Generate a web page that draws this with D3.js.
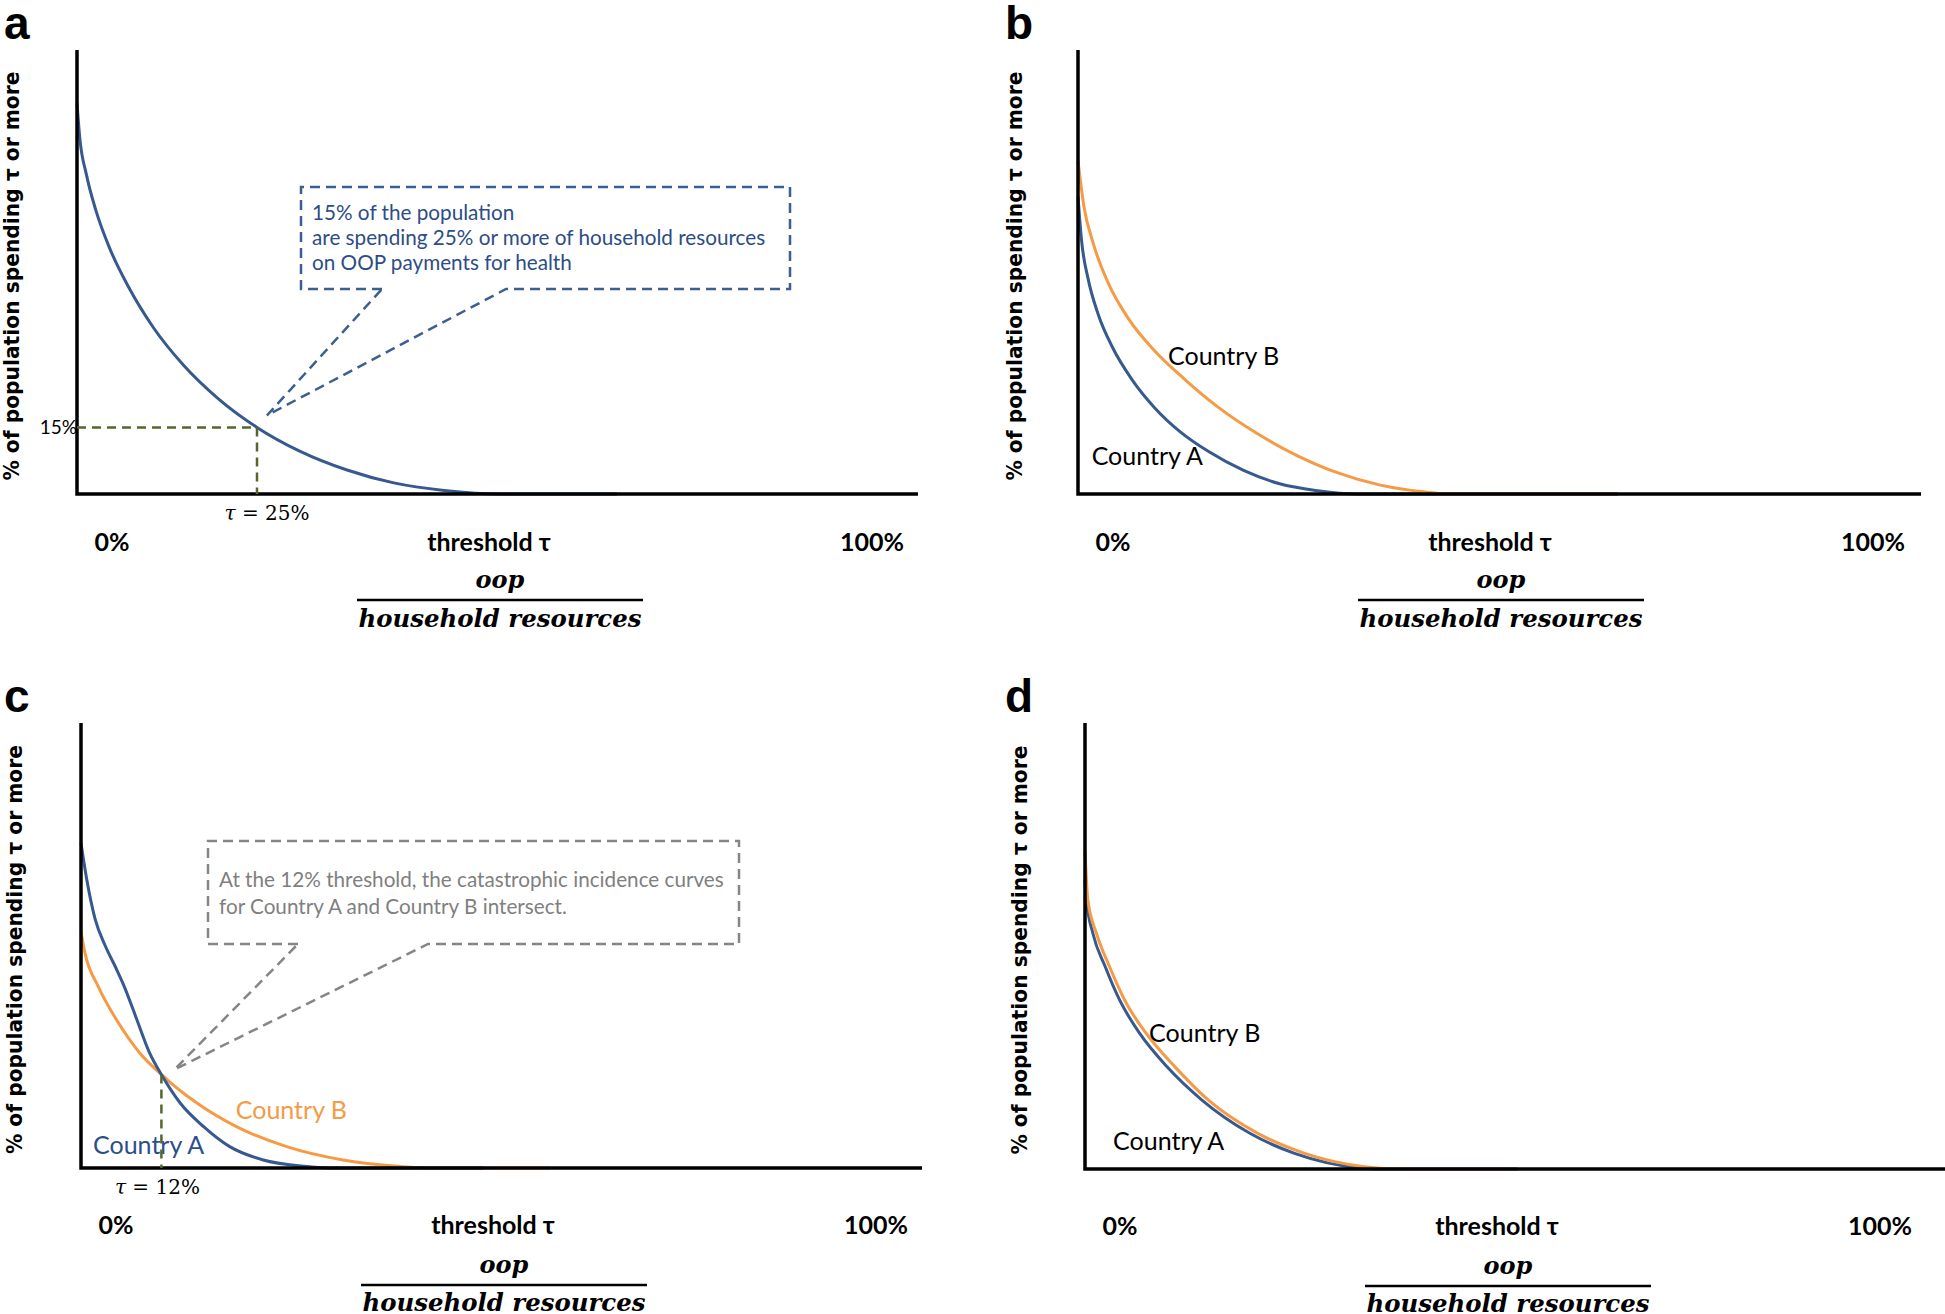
<!DOCTYPE html>
<meta charset="utf-8">
<style>
    body { margin: 0; background: #fff; }
    svg text { font-family: Lato, "Open Sans", sans-serif; }
    .letter { font-family: "Liberation Sans", Arial, sans-serif; font-weight: bold; font-size: 46px; }
    .ylab { font-family: "DejaVu Sans", sans-serif; font-weight: bold; font-size: 21px; }
    .tick { font-weight: bold; font-size: 25px; }
    .frac { font-family: "DejaVu Serif", serif; font-weight: bold; font-style: italic; font-size: 24px; }
    .note { font-size: 20.7px; }
    .country { font-size: 25px; }
    .math { font-family: "DejaVu Serif", serif; font-size: 20px; }
</style>
<body>
<div id="plotarea"></div>

<script src="https://cdn.jsdelivr.net/npm/d3@7"></script>
<script>

    // [threshold %, % of population]
    var curveA = [[0, 88], [0.4, 80], [1.3, 72], [2.6, 64], [4.5, 55.5], [7.2, 46.5], [10.6, 37.5], [14.8, 29],
        [19.6, 21.5], [25, 15], [31, 9.6], [37.5, 5.4], [44, 2.5], [51, 0.8], [59, 0], [75, 0]];

    var bCountryA = [[0, 67], [0.5, 57], [1.4, 48.5], [2.8, 40.5], [4.8, 33], [7.4, 26], [10.6, 19.5],
        [14.2, 14], [18.2, 9.5], [23, 5.3], [28, 2.3], [33, 0.8], [39, 0], [75, 0]];
    var bCountryB = [[0, 75], [0.8, 65], [2.2, 56], [4.2, 47.5], [7, 39.5], [10.5, 32.5], [14.7, 26],
        [19.5, 19.5], [25, 13.5], [30.5, 8.6], [36, 4.8], [42, 2], [48, 0.5], [52, 0], [75, 0]];

    var cCountryA = [[0, 73], [0.9, 64.5], [2.1, 56], [3.6, 50], [5.2, 45], [6.4, 41], [8.3, 33.5],
        [10.2, 26], [12, 21], [14.8, 14.6], [18.3, 9.3], [22.2, 4.8], [27.2, 1.8], [33.2, 0.4], [37, 0], [60, 0]];
    var cCountryB = [[0, 53], [0.6, 48.3], [2.6, 40.7], [5.3, 33.3], [8.8, 25.8], [12, 21], [17.3, 14.6],
        [23.2, 9.3], [30.7, 4.8], [39.1, 1.8], [48.1, 0.3], [52, 0], [70, 0]];

    var dCountryA = [[0, 64.8], [0.2, 60.3], [1.1, 52.8], [2.8, 45.4], [4.8, 37.9], [7.6, 30.4], [11.4, 22.9],
        [16.2, 15.5], [22.9, 8.0], [29.1, 3.5], [38.4, 0.2], [41, 0], [60, 0]];
    var dCountryB = [[0, 71.3], [0.4, 60.3], [1.6, 52.8], [3.4, 45.4], [5.5, 37.9], [8.5, 30.4], [12.5, 22.9],
        [17.1, 15.5], [24, 8.0], [30.5, 3.5], [38.8, 0.5], [43.8, 0], [60, 0]];

    var tauA = 25, popA = 15;
    var tauC = 12, popC = 21;

    var tickLabels = ["0%", "threshold \u03c4", "100%"];
    var yTitle = "% of population spending \u03c4 or more";
    var fracTop = "oop", fracBottom = "household resources";
    var noteA = ["15% of the population", "are spending 25% or more of household resources", "on OOP payments for health"];
    var noteC = ["At the 12% threshold, the catastrophic incidence curves", "for Country A and Country B intersect."];

    var blue = "#36598f", orange = "#f59a45", green = "#56672c", grey = "#858585";

    var svg = d3.select("#plotarea").append("svg")
            .attr("width", 1945)
            .attr("height", 1314);

    var line = d3.line().curve(d3.curveMonotoneX);

    function panel(p) {
        var g = svg.append("g");
        var x = d3.scaleLinear().domain([0, 100]).range([p.x0, p.x0 + 100 * p.pxPer]);
        var y = d3.scaleLinear().domain([0, 100]).range([p.bottom, p.top]);
        line.x(function(d) { return x(d[0]); }).y(function(d) { return y(d[1]); });

        g.append("text").attr("class", "letter").attr("x", p.letterX).attr("y", p.letterY).text(p.letter);

        g.append("text").attr("class", "ylab")
            .attr("transform", "translate(" + (p.x0 - p.ylabOff) + "," + ((p.top + p.bottom) / 2 + 4) + ") rotate(-90)")
            .attr("text-anchor", "middle").attr("dy", "0.35em")
            .attr("textLength", 409).attr("lengthAdjust", "spacingAndGlyphs")
            .text(yTitle);

        p.series.forEach(function(s) {
            g.append("path").datum(s.data)
                .attr("d", line)
                .attr("fill", "none")
                .attr("stroke", s.color)
                .attr("stroke-width", 3);
        });

        // axes
        g.append("path")
            .attr("d", "M" + p.x0 + "," + (p.top) + "V" + p.bottom + "H" + p.right)
            .attr("fill", "none").attr("stroke", "#000").attr("stroke-width", 3.5);

        var tx = [p.x0 + 35, p.x0 + 412, p.x0 + 795];
        g.selectAll(".tick").data(tickLabels).enter().append("text")
            .attr("class", "tick").attr("text-anchor", "middle")
            .attr("x", function(d, i) { return tx[i]; })
            .attr("y", p.bottom + p.off[0]).attr("dy", "0.35em")
            .text(function(d) { return d; });

        var fx = p.x0 + 423;
        g.append("text").attr("class", "frac").attr("text-anchor", "middle")
            .attr("x", fx).attr("y", p.bottom + p.off[1]).attr("dy", "0.35em").text(fracTop);
        g.append("line").attr("x1", fx - 143).attr("x2", fx + 143)
            .attr("y1", p.bottom + p.off[2]).attr("y2", p.bottom + p.off[2])
            .attr("stroke", "#000").attr("stroke-width", 2.5);
        g.append("text").attr("class", "frac").attr("text-anchor", "middle")
            .attr("x", fx).attr("y", p.bottom + p.off[3]).attr("dy", "0.35em")
            .attr("textLength", 283).attr("lengthAdjust", "spacingAndGlyphs")
            .text(fracBottom);

        (p.labels || []).forEach(function(l) {
            g.append("text").attr("class", "country")
                .attr("x", x(l.at[0])).attr("y", y(l.at[1])).attr("dy", "0.35em")
                .attr("fill", l.color).text(l.text);
        });

        if (p.tau) {
            var px = x(p.tau[0]), py = y(p.tau[1]);
            var guide = "M" + px + "," + py + "V" + p.bottom;
            if (p.tau.hline) guide = "M" + p.x0 + "," + py + "H" + px + guide;
            g.append("path").attr("d", guide).attr("fill", "none")
                .attr("stroke", green).attr("stroke-width", 2.5).attr("stroke-dasharray", "9,6");
            g.append("text").attr("class", "math").attr("text-anchor", "middle")
                .attr("x", px + p.tau.labelDx).attr("y", p.bottom + 19).attr("dy", "0.35em")
                .html("<tspan font-style='italic'>\u03c4</tspan> = " + p.tau[0] + "%");
            if (p.tau.hline) {
                g.append("text").attr("text-anchor", "end").attr("font-size", 19)
                    .attr("x", p.x0).attr("y", py).attr("dy", "0.35em").text(p.tau[1] + "%");
            }

            var b = p.box, tip = [px + b.tip[0], py + b.tip[1]];
            g.append("path")
                .attr("d", "M" + b.gap[0] + "," + b.y1 + "H" + b.x0 + "V" + b.y0 + "H" + b.x1 + "V" + b.y1 +
                    "H" + b.gap[1] + "L" + tip[0] + "," + tip[1] + "Z")
                .attr("fill", "none").attr("stroke", b.color).attr("stroke-width", 2.5)
                .attr("stroke-dasharray", "10,6");
            b.lines.forEach(function(t, i) {
                g.append("text").attr("class", "note").attr("fill", b.text)
                    .attr("x", b.x0 + 11).attr("y", b.ty + i * b.lh).attr("dy", "0.35em").text(t);
            });
        }
    }

    var t1 = [48, 86, 106, 125], t2 = [57, 97, 117, 135];

    panel({letter: "a", letterX: 4, letterY: 39, x0: 77, top: 50, bottom: 494, right: 918, pxPer: 7.2,
        ylabOff: 65, off: t1,
        series: [{data: curveA, color: blue}],
        tau: Object.assign([tauA, popA], {hline: true, labelDx: 10}),
        box: {x0: 301, x1: 790, y0: 187, y1: 289, gap: [382, 506], tip: [10, -12],
            color: "#3a5f92", text: "#2c4d87", lines: noteA, ty: 213, lh: 25}
    });

    panel({letter: "b", letterX: 1005, letterY: 39, x0: 1078, top: 50, bottom: 494, right: 1921, pxPer: 7.2,
        ylabOff: 63, off: t1,
        series: [{data: bCountryA, color: blue}, {data: bCountryB, color: orange}],
        labels: [{text: "Country B", at: [12.5, 31], color: "#000"}, {text: "Country A", at: [1.9, 8.6], color: "#000"}]
    });

    panel({letter: "c", letterX: 4, letterY: 712, x0: 81, top: 723, bottom: 1168, right: 922, pxPer: 6.7,
        ylabOff: 66, off: t2,
        series: [{data: cCountryB, color: orange}, {data: cCountryA, color: blue}],
        labels: [{text: "Country B", at: [23.1, 13], color: orange}, {text: "Country A", at: [1.8, 5.2], color: "#2c4f8c"}],
        tau: Object.assign([tauC, popC], {hline: false, labelDx: -4}),
        box: {x0: 208, x1: 739, y0: 841, y1: 944, gap: [298, 428], tip: [13, -5],
            color: grey, text: "#7f7f7f", lines: noteC, ty: 880, lh: 27}
    });

    panel({letter: "d", letterX: 1005, letterY: 712, x0: 1085, top: 723, bottom: 1169, right: 1945, pxPer: 7.2,
        ylabOff: 65, off: t2,
        series: [{data: dCountryA, color: blue}, {data: dCountryB, color: orange}],
        labels: [{text: "Country B", at: [8.9, 30.5], color: "#000"}, {text: "Country A", at: [3.9, 6.3], color: "#000"}]
    });

</script>
